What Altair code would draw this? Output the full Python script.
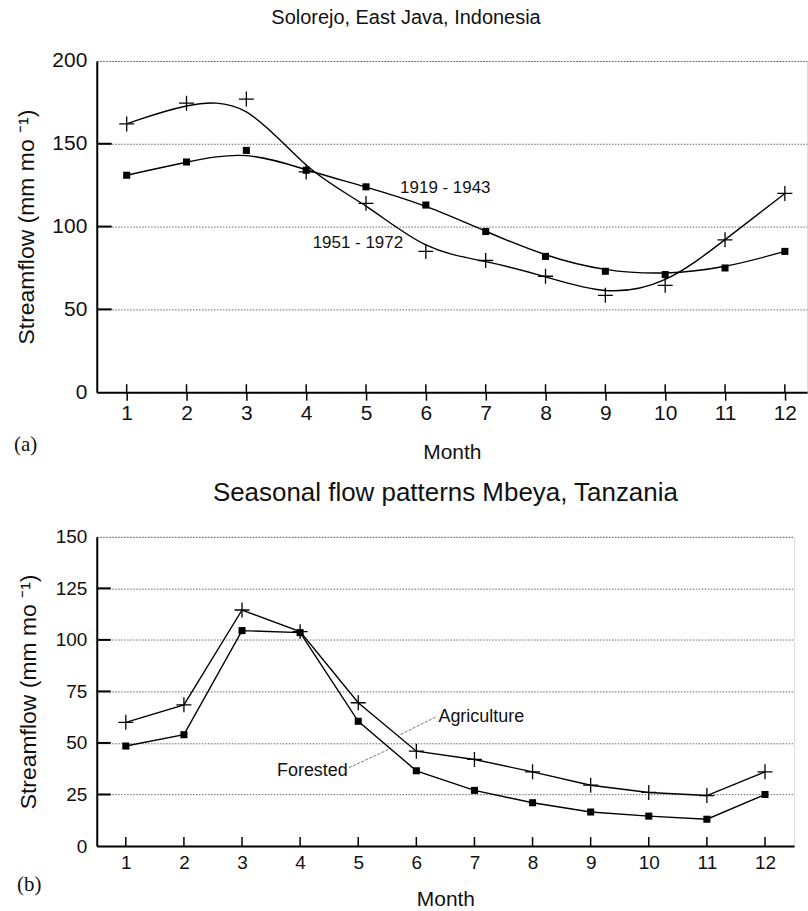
import altair as alt
import pandas as pd

# ---------------- data ----------------
months = list(range(1, 13))
java_1919_1943 = [131, 139, 146, 134, 124, 113, 97, 82, 73, 71, 75, 85]
java_1951_1972 = [162, 174.5, 177, 133, 114, 85, 79.5, 70, 58.5, 64.5, 92, 120]
mbeya_forested = [48.5, 54, 104.5, 103.5, 60.5, 36.5, 27, 21, 16.5, 14.5, 13, 25]
mbeya_agriculture = [60, 68.5, 114.5, 104, 69.5, 46, 42, 36, 29.5, 26, 24.5, 36]
top_y_ticks = [0, 50, 100, 150, 200]
bottom_y_ticks = [0, 25, 50, 75, 100, 125, 150]
top_inner_ticks = [50, 100, 150]
bottom_inner_ticks = [25, 50, 75, 100, 125]

FONT = "Liberation Sans"
SERIF = "Liberation Serif"
INK = "#111111"
PLUS = "M-1,0L1,0M0,-1L0,1"

TOP_W, TOP_H = 712, 332
BOT_W, BOT_H = 699, 310

top_df = pd.DataFrame({"month": months, "a": java_1919_1943, "b": java_1951_1972})
bot_df = pd.DataFrame({"month": months, "f": mbeya_forested, "g": mbeya_agriculture})

YTITLE = "Streamflow (mm mo \u207b\u00b9)"


def x_axis(label_size, label_pad, title_pad, ticks):
    return alt.Axis(values=months, title="Month", grid=False, ticks=ticks,
                    tickSize=8, tickWidth=1.5, tickColor="black",
                    domainColor="black", domainWidth=2,
                    labelFont=FONT, labelFontSize=label_size, labelColor=INK,
                    labelPadding=label_pad, titleFont=FONT, titleFontSize=21,
                    titleFontWeight="normal", titleColor=INK, titlePadding=title_pad)


def y_axis(values, label_size, label_pad, title_pad):
    return alt.Axis(values=values, title=YTITLE, grid=True, gridDash=[1.5, 1.5],
                    gridColor="#555555", gridWidth=0.9, ticks=False,
                    domainColor="black", domainWidth=2,
                    labelFont=FONT, labelFontSize=label_size, labelColor=INK,
                    labelPadding=label_pad, titleFont=FONT, titleFontSize=23,
                    titleFontWeight="normal", titleColor=INK, titlePadding=title_pad)


# ---------------- top panel ----------------
xs_t = alt.Scale(domain=[0.5, 12.37], nice=False)
ys_t = alt.Scale(domain=[0, 200], nice=False)
X_t = alt.X("month:Q", scale=xs_t, axis=x_axis(21, 2, 19, True))


def Yt(field):
    return alt.Y(field, type="quantitative", scale=ys_t, axis=y_axis(top_y_ticks, 21, 10, 13))


base_t = alt.Chart(top_df)
top_layers = [
    base_t.mark_line(interpolate="basis", color="black", strokeWidth=1.4).encode(x=X_t, y=Yt("a")),
    base_t.mark_line(interpolate="basis", color="black", strokeWidth=1.4).encode(x=X_t, y=Yt("b")),
    base_t.mark_point(shape="square", filled=True, size=50, color="black", opacity=1).encode(x=X_t, y=Yt("a")),
    base_t.mark_point(shape=PLUS, filled=False, size=225, strokeWidth=1.3, color="black", opacity=1).encode(x=X_t, y=Yt("b")),
]
# inner ticks
top_layers.append(
    alt.Chart(pd.DataFrame({"month": months})).mark_rule(color="black", strokeWidth=1.5).encode(
        x=X_t, y=alt.value(TOP_H - 8), y2=alt.value(TOP_H))
)
top_layers.append(
    alt.Chart(pd.DataFrame({"v": top_inner_ticks})).mark_rule(color="black", strokeWidth=2).encode(
        y=Yt("v"), x=alt.value(0), x2=alt.value(15))
)
ann_t = pd.DataFrame({"month": [5.57, 5.62], "v": [123, 90],
                      "label": ["1919 - 1943", "1951 - 1972"]})
top_layers.append(
    alt.Chart(ann_t.iloc[[0]]).mark_text(align="left", baseline="middle", font=FONT,
                                         fontSize=17, color=INK).encode(x=X_t, y=Yt("v"), text="label:N"))
top_layers.append(
    alt.Chart(ann_t.iloc[[1]]).mark_text(align="right", baseline="middle", font=FONT,
                                         fontSize=17, color=INK).encode(x=X_t, y=Yt("v"), text="label:N"))
top_layers.append(
    alt.Chart(pd.DataFrame({"t": ["(a)"]})).mark_text(align="left", baseline="middle", font=SERIF,
                                                     fontSize=21, color=INK).encode(
        x=alt.value(-83), y=alt.value(TOP_H + 53), text="t:N"))

top = alt.layer(*top_layers).properties(
    width=TOP_W, height=TOP_H,
    title=alt.TitleParams("Solorejo, East Java, Indonesia", font=FONT, fontSize=20,
                          fontWeight="normal", color=INK, frame="group", anchor="middle",
                          dx=-46, offset=22),
)

# ---------------- bottom panel ----------------
xs_b = alt.Scale(domain=[0.5, 12.5], nice=False)
ys_b = alt.Scale(domain=[0, 150], nice=False)
X_b = alt.X("month:Q", scale=xs_b, axis=x_axis(19, 8, 16, False))


def Yb(field):
    return alt.Y(field, type="quantitative", scale=ys_b, axis=y_axis(bottom_y_ticks, 19, 10, 15))


base_b = alt.Chart(bot_df)
bot_layers = [
    base_b.mark_line(color="black", strokeWidth=1.4).encode(x=X_b, y=Yb("f")),
    base_b.mark_line(color="black", strokeWidth=1.4).encode(x=X_b, y=Yb("g")),
    base_b.mark_point(shape="square", filled=True, size=50, color="black", opacity=1).encode(x=X_b, y=Yb("f")),
    base_b.mark_point(shape=PLUS, filled=False, size=225, strokeWidth=1.3, color="black", opacity=1).encode(x=X_b, y=Yb("g")),
]
bot_layers.append(
    alt.Chart(pd.DataFrame({"month": months})).mark_rule(color="black", strokeWidth=1.5).encode(
        x=X_b, y=alt.value(BOT_H - 9), y2=alt.value(BOT_H))
)
bot_layers.append(
    alt.Chart(pd.DataFrame({"v": bottom_inner_ticks})).mark_rule(color="black", strokeWidth=2).encode(
        y=Yb("v"), x=alt.value(0), x2=alt.value(14))
)
leaders = pd.DataFrame({"x1": [6.33, 4.84], "y1": [62.5, 38.0],
                        "x2": [5.72, 5.52], "y2": [54.0, 46.8]})
bot_layers.append(
    alt.Chart(leaders).mark_rule(color="#666666", strokeWidth=0.9, strokeDash=[3, 1.5]).encode(
        x=alt.X("x1:Q", scale=xs_b, axis=x_axis(19, 8, 16, False)),
        x2="x2:Q",
        y=alt.Y("y1:Q", scale=ys_b, axis=y_axis(bottom_y_ticks, 19, 10, 15)),
        y2="y2:Q")
)
ann_b = pd.DataFrame({"month": [6.38, 4.82], "v": [62.5, 36.3], "label": ["Agriculture", "Forested"]})
bot_layers.append(
    alt.Chart(ann_b.iloc[[0]]).mark_text(align="left", baseline="middle", font=FONT,
                                         fontSize=18, color=INK).encode(x=X_b, y=Yb("v"), text="label:N"))
bot_layers.append(
    alt.Chart(ann_b.iloc[[1]]).mark_text(align="right", baseline="middle", font=FONT,
                                         fontSize=18, color=INK).encode(x=X_b, y=Yb("v"), text="label:N"))
bot_layers.append(
    alt.Chart(pd.DataFrame({"t": ["(b)"]})).mark_text(align="left", baseline="middle", font=SERIF,
                                                     fontSize=21, color=INK).encode(
        x=alt.value(-80), y=alt.value(BOT_H + 39), text="t:N"))

bottom = alt.layer(*bot_layers).properties(
    width=BOT_W, height=BOT_H,
    title=alt.TitleParams("Seasonal flow patterns Mbeya, Tanzania", font=FONT, fontSize=26,
                          fontWeight="normal", color=INK, frame="group", anchor="middle",
                          offset=22),
)

chart = alt.vconcat(top, bottom, spacing=15).properties(
    padding={"left": 13, "top": 6, "right": 0, "bottom": 0}
).configure_view(stroke="black", strokeWidth=2).configure(background="white")

chart.save("out.html", embed_options={"renderer": "svg", "actions": False})
